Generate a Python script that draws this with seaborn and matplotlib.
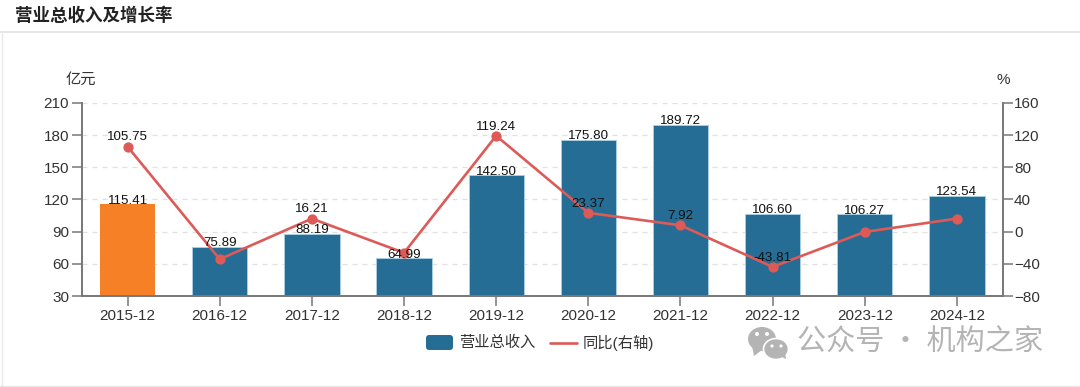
import matplotlib
matplotlib.use("Agg")
import matplotlib.pyplot as plt
from matplotlib.lines import Line2D
from matplotlib.patches import Ellipse, FancyBboxPatch, Polygon
import pandas as pd
import seaborn as sns

months = ["2015-12", "2016-12", "2017-12", "2018-12", "2019-12",
          "2020-12", "2021-12", "2022-12", "2023-12", "2024-12"]
revenue = [115.41, 75.89, 88.19, 64.99, 142.50, 175.80, 189.72, 106.60, 106.27, 123.54]
growth = [105.75, -34.24, 16.21, -26.31, 119.24, 23.37, 7.92, -43.81, -0.31, 16.25]
growth_labels = ["105.75", None, "16.21", None, "119.24", "23.37", "7.92", "-43.81", None, None]
left_ticks = [30, 60, 90, 120, 150, 180, 210]
right_ticks = [-80, -40, 0, 40, 80, 120, 160]

BLUE = "#266d96"
ORANGE = "#f58025"
RED = "#dd5a57"
AXIS = "#777777"
TEXT = "#333333"

sns.set_theme(style="white")
plt.rcParams["font.family"] = ["Liberation Sans", "Noto Sans CJK SC", "DejaVu Sans"]

W, H = 1080, 387
df = pd.DataFrame({"month": months, "revenue": revenue, "growth": growth})

fig = plt.figure(figsize=(W / 100, H / 100), dpi=100, facecolor="white")
ax = fig.add_axes([81.5 / W, 1 - 296 / H, (1003 - 81.5) / W, (296 - 103) / H])

# bars, first year is highlighted in the original
sns.barplot(data=df, x="month", y="revenue", hue="month", ax=ax, width=0.6,
            palette=[ORANGE] + [BLUE] * 9, legend=False, saturation=1,
            linewidth=0, zorder=2)
for bar in ax.patches[1:]:
    bar.set_edgecolor("#a9cde0")
    bar.set_linewidth(0.7)
ax.set_xlim(-0.5, 9.5)
ax.set_ylim(30, 210)
ax.set_yticks(left_ticks)
ax.yaxis.grid(True, color="#e0e0e0", linestyle=(0, (4, 4)), linewidth=0.9)
ax.set_axisbelow(True)
ax.set_xlabel("")
ax.set_ylabel("")
ax.tick_params(axis="both", length=7, width=1.1, color=AXIS, labelcolor=TEXT, pad=2,
               labelsize=11, bottom=True, left=True)

ax2 = ax.twinx()
sns.lineplot(data=df, x="month", y="growth", ax=ax2, color=RED, linewidth=1.9,
             marker="o", markersize=7.4, markeredgewidth=0, zorder=5)
ax2.set_ylim(-80, 160)
ax2.set_yticks(right_ticks)
ax2.set_ylabel("")
ax2.set_xlabel("")
ax2.grid(False)
ax2.tick_params(axis="y", length=7, width=1.1, color=AXIS, labelcolor=TEXT, pad=1,
                labelsize=11, right=True)

for a in (ax, ax2):
    for s in a.spines.values():
        s.set_visible(False)
    a.spines["bottom"].set_visible(True)
    a.spines["bottom"].set_color(AXIS)
    a.spines["bottom"].set_linewidth(1.2)
ax.spines["left"].set_visible(True)
ax.spines["left"].set_color(AXIS)
ax.spines["left"].set_linewidth(1.4)
ax2.spines["right"].set_visible(True)
ax2.spines["right"].set_color(AXIS)
ax2.spines["right"].set_linewidth(1.4)

for i, v in enumerate(revenue):
    ax2.annotate(f"{v:.2f}", (i, (v - 30) / 180), xycoords=ax.get_xaxis_transform(),
                 xytext=(0, 0.5), textcoords="offset points", ha="center", va="baseline",
                 fontsize=9.6, color="#111111", zorder=6)
for i, lab in enumerate(growth_labels):
    if lab:
        ax2.annotate(lab, (i, growth[i]), xytext=(0, 4.5), textcoords="offset points",
                     ha="center", va="baseline", fontsize=9.6, color="#111111", zorder=6)

# page furniture in pixel coordinates
page = fig.add_axes([0, 0, 1, 1], facecolor="none", zorder=10)
page.set_xlim(0, W)
page.set_ylim(H, 0)
page.axis("off")
page.plot([0, W], [32, 32], color="#e2e2e2", lw=1.2)
page.plot([1.5, 1.5], [32, H], color="#e8e8e8", lw=1)
page.plot([0, W], [386, 386], color="#e8e8e8", lw=1)
page.text(15, 15, "营业总收入及增长率", fontsize=12.6, fontweight="bold", color="#222222",
          va="center", ha="left")
page.text(81, 80, "亿元", fontsize=11, color=TEXT, ha="center", va="center")
page.text(1003, 80, "%", fontsize=11, color=TEXT, ha="center", va="center")

# legend
page.add_patch(FancyBboxPatch((426, 335), 27, 15, boxstyle="round,pad=0,rounding_size=3",
                              fc=BLUE, ec="none"))
page.text(459, 343, "营业总收入", fontsize=11, color=TEXT, va="center")
page.add_line(Line2D([550, 577], [343, 343], color=RED, lw=1.9))
page.text(583, 343, "同比(右轴)", fontsize=11, color=TEXT, va="center")

# watermark
GREY = "#b4b4b4"
page.add_patch(Ellipse((762, 339), 28, 24, fc=GREY, ec="none"))
page.add_patch(Polygon([[752, 346], [754, 356], [762, 350]], fc=GREY, ec="none"))
page.add_patch(Ellipse((776, 349), 25, 21, fc=GREY, ec="white", lw=1.2))
page.add_patch(Polygon([[780, 356], [786, 359], [785, 352]], fc=GREY, ec="none"))
for cx, cy, r in [(757, 334, 2), (767, 334, 2), (772, 346, 1.6), (781, 346, 1.6)]:
    page.add_patch(Ellipse((cx, cy), r * 2, r * 2, fc="white", ec="none"))
page.text(797, 343, "公众号 · 机构之家", fontsize=21, color=GREY, va="center", ha="left",
          family=["Noto Sans CJK SC", "DejaVu Sans"])

fig.savefig("out.png", dpi=100, facecolor="white")
